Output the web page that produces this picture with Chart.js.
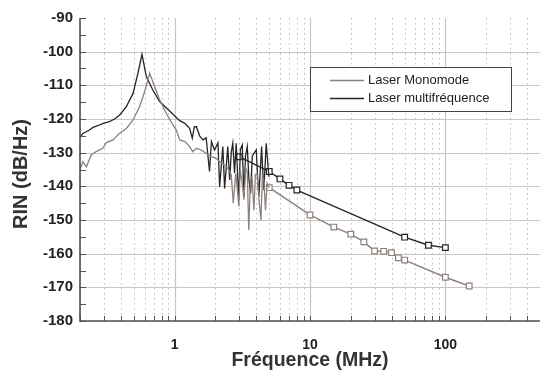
<!DOCTYPE html>
<html>
<head>
<meta charset="utf-8">
<script src="https://cdn.jsdelivr.net/npm/chart.js@4/dist/chart.umd.min.js"></script>
<style>
html,body{margin:0;padding:0;background:#fff;}
#wrap{width:540px;height:374px;position:relative;}
</style>
</head>
<body>
<div id="wrap"><canvas id="c" width="540" height="374"></canvas></div>
<script>
// ---- Data (frequency in MHz, RIN in dB/Hz) ----
const seriesNames = ["Laser Monomode", "Laser multifréquence"];

// Measured spectrum, single-mode laser (gray)
const monoSpecFreq = [0.2,0.21,0.223,0.242,0.263,0.295,0.313,0.35,0.393,0.44,0.493,0.552,0.6,0.654,0.712,0.775,0.868,0.946,1.03,1.09,1.19,1.29,1.36,1.45,1.57,1.71,1.87,2.03,2.15,2.34,2.47,2.62,2.71,2.83,2.98,3.05,3.16,3.25,3.35,3.44,3.53,3.63,3.73,3.85,3.95,4.06,4.2,4.34,4.45,4.56,4.69,4.82,5.0];
const monoSpecRIN  = [-135.1,-132.7,-134.2,-130.7,-129.7,-128.7,-127,-126.2,-124.2,-122.8,-120.3,-116.3,-111.9,-106.4,-110.4,-114.3,-118.3,-121,-123.3,-126.2,-126.7,-128.2,-129.7,-128.7,-129.2,-130.2,-131.2,-131.7,-132.7,-133.7,-134.6,-136.6,-145,-136.1,-146,-135.1,-139,-144,-134.5,-135.6,-153,-138,-137.2,-147.1,-136.5,-136.1,-144,-150,-137,-138.1,-147.1,-139.1,-140.4];

// Measured spectrum, multi-frequency laser (black)
const multiSpecFreq = [0.2,0.21,0.217,0.23,0.25,0.27,0.3,0.33,0.36,0.393,0.44,0.493,0.536,0.574,0.618,0.69,0.775,0.918,1.09,1.19,1.29,1.35,1.4,1.45,1.53,1.62,1.71,1.81,1.87,1.97,2.09,2.15,2.27,2.34,2.47,2.55,2.62,2.69,2.77,2.85,2.98,3.06,3.16,3.25,3.34,3.44,3.54,3.64,3.75,3.85,4.01,4.1,4.19,4.39,4.47,4.56,4.75,4.88,4.97];
const multiSpecRIN  = [-125.5,-124.3,-124,-123.5,-122.5,-122,-121.2,-120.8,-120,-118.8,-116.3,-112.4,-106.4,-100.8,-107.4,-111.4,-114.8,-117.6,-120.5,-121.3,-122.8,-125.7,-122.3,-122.3,-125,-126.2,-125.6,-135.6,-126.7,-129.2,-127.1,-140.1,-128.2,-140.6,-128.2,-138.1,-130,-127.2,-136,-127.2,-144,-129,-127.7,-143.1,-131,-128.2,-138,-142.1,-131,-130.2,-129.2,-137,-143,-128.2,-135,-141.1,-127.2,-133.2,-137.2];

// Discrete measurement points (square markers)
const monoPtsFreq = [5,10,15,20,25,30,35,40,45,50,100,150];
const monoPtsRIN  = [-140.4,-148.5,-152.1,-154.2,-156.5,-159.2,-159.3,-159.7,-161.2,-161.9,-167.0,-169.6];
const multiPtsFreq = [3,5,6,7,8,50,75,100];
const multiPtsRIN  = [-131.2,-135.6,-137.8,-139.7,-141.1,-155.1,-157.5,-158.2];

// Axis ticks
const xTickValues = [0.2,0.3,0.4,0.5,0.6,0.7,0.8,0.9,1,2,3,4,5,6,7,8,9,10,20,30,40,50,60,70,80,90,100,200,300,400,500];
const xTickLabels = [1,10,100];
const yMajorTicks = [-180,-170,-160,-150,-140,-130,-120,-110,-100,-90];
const yMinorTicks = [-175,-165,-155,-145,-135,-125,-115,-105,-95];

const GRAY = '#8d817d';
const BLACK = '#262626';

function pts(f, v){ return f.map((x,i)=>({x:x,y:v[i]})); }

const gridPlugin = {
  id:'customGrid',
  beforeDatasetsDraw(chart){
    const {ctx, chartArea:a, scales:{x,y}} = chart;
    ctx.save();
    xTickValues.forEach(v=>{
      const px = Math.round(x.getPixelForValue(v))+0.5;
      const major = xTickLabels.includes(v);
      ctx.beginPath();
      if(major){ ctx.setLineDash([]); ctx.strokeStyle='#cdc4c1'; ctx.lineWidth=1.2; }
      else { ctx.setLineDash([1.5,3.5]); ctx.strokeStyle='#b9b9b9'; ctx.lineWidth=1; }
      ctx.moveTo(px,a.top); ctx.lineTo(px,a.bottom); ctx.stroke();
    });
    ctx.setLineDash([]);
    yMajorTicks.forEach(v=>{
      if(v===-180||v===-90) return;
      const py = Math.round(y.getPixelForValue(v))+0.5;
      ctx.beginPath(); ctx.strokeStyle='#cdc4c1'; ctx.lineWidth=1.2;
      ctx.moveTo(a.left,py); ctx.lineTo(a.right,py); ctx.stroke();
    });
    ctx.restore();
  },
  afterDatasetsDraw(chart){
    const {ctx, chartArea:a, scales:{x,y}} = chart;
    ctx.save();
    ctx.strokeStyle='#555'; ctx.lineWidth=1;
    yMajorTicks.concat(yMinorTicks).forEach(v=>{
      const py = Math.round(y.getPixelForValue(v))+0.5;
      ctx.beginPath(); ctx.moveTo(a.left,py); ctx.lineTo(a.left+6,py); ctx.stroke();
    });
    xTickValues.forEach(v=>{
      const px = Math.round(x.getPixelForValue(v))+0.5;
      ctx.beginPath(); ctx.moveTo(px,a.bottom); ctx.lineTo(px,a.bottom-5); ctx.stroke();
    });
    ctx.strokeStyle='#4d4d4d'; ctx.lineWidth=1.6;
    ctx.beginPath(); ctx.moveTo(a.left,a.top); ctx.lineTo(a.left,a.bottom); ctx.lineTo(a.right,a.bottom); ctx.stroke();

    // legend
    const lx=310.5, ly=67.5, lw=201, lh=44;
    ctx.fillStyle='#fff'; ctx.fillRect(lx,ly,lw,lh);
    ctx.strokeStyle='#444'; ctx.lineWidth=1; ctx.strokeRect(lx,ly,lw,lh);
    ctx.font='13px "Liberation Sans", Arial, sans-serif';
    ctx.textBaseline='middle'; ctx.textAlign='left';
    [[GRAY,seriesNames[0],80.5],[BLACK,seriesNames[1],98.5]].forEach(([c,t,yy])=>{
      ctx.strokeStyle=c; ctx.lineWidth=1.5;
      ctx.beginPath(); ctx.moveTo(330,yy); ctx.lineTo(364,yy); ctx.stroke();
      ctx.fillStyle='#222'; ctx.fillText(t,368,yy);
    });

    // axis titles
    ctx.fillStyle='#333';
    ctx.font='bold 19.5px "Liberation Sans", Arial, sans-serif';
    ctx.textAlign='center'; ctx.textBaseline='middle';
    ctx.fillText('Fréquence (MHz)', 310, 361);
    ctx.save();
    ctx.translate(21,174); ctx.rotate(-Math.PI/2);
    ctx.font='bold 20px "Liberation Sans", Arial, sans-serif';
    ctx.fillText('RIN (dB/Hz)',0,0);
    ctx.restore();
    ctx.restore();
  }
};

new Chart(document.getElementById('c'), {
  type:'line',
  data:{
    datasets:[
      {label:seriesNames[0], data:pts(monoSpecFreq,monoSpecRIN), borderColor:GRAY, borderWidth:1.3, pointRadius:0, tension:0},
      {label:seriesNames[1], data:pts(multiSpecFreq,multiSpecRIN), borderColor:BLACK, borderWidth:1.3, pointRadius:0, tension:0},
      {label:seriesNames[0]+' pts', data:pts(monoPtsFreq,monoPtsRIN), borderColor:GRAY, borderWidth:1.4, pointStyle:'rect', pointRadius:4, pointBackgroundColor:'#fff', pointBorderColor:GRAY, pointBorderWidth:1.2, tension:0},
      {label:seriesNames[1]+' pts', data:pts(multiPtsFreq,multiPtsRIN), borderColor:BLACK, borderWidth:1.4, pointStyle:'rect', pointRadius:4, pointBackgroundColor:'#fff', pointBorderColor:BLACK, pointBorderWidth:1.2, tension:0}
    ]
  },
  options:{
    responsive:false, animation:false, devicePixelRatio:1,
    layout:{autoPadding:false, padding:{top:18,right:0,left:0,bottom:0}},
    plugins:{legend:{display:false}, tooltip:{enabled:false}},
    scales:{
      x:{type:'logarithmic', min:0.2, max:500,
        afterBuildTicks(s){ s.ticks = xTickValues.map(v=>({value:v})); },
        afterFit(s){ s.height = 53; s.paddingLeft = 0; s.paddingRight = 0; },
        grid:{display:false}, border:{display:false},
        ticks:{autoSkip:false, maxRotation:0, padding:8, color:'#222',
          font:{family:'"Liberation Sans", Arial, sans-serif', size:14, weight:'bold'},
          callback:(v)=> xTickLabels.includes(Number(v)) ? String(v) : ''}
      },
      y:{type:'linear', min:-180, max:-90,
        afterBuildTicks(s){ s.ticks = yMajorTicks.map(v=>({value:v})); },
        afterFit(s){ s.width = 80; },
        grid:{display:false, drawTicks:false}, border:{display:false},
        ticks:{padding:7, color:'#222',
          font:{family:'"Liberation Sans", Arial, sans-serif', size:15, weight:'bold'}}
      }
    }
  },
  plugins:[gridPlugin]
});
</script>
</body>
</html>
